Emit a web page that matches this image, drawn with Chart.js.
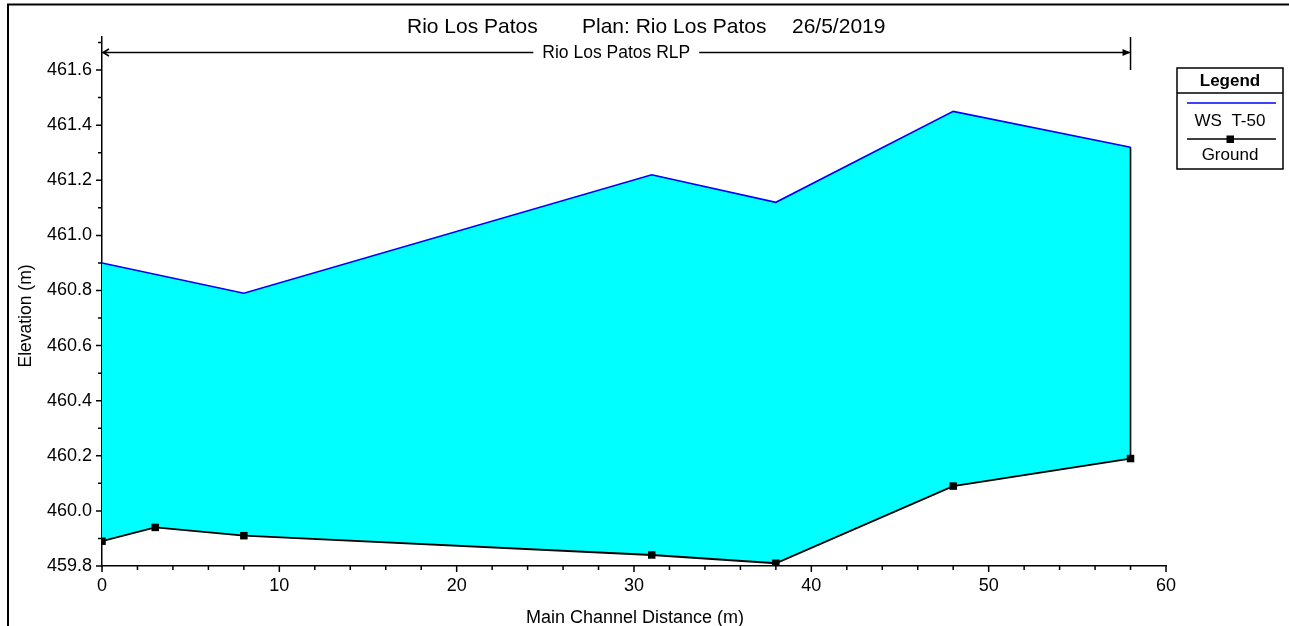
<!DOCTYPE html>
<html><head><meta charset="utf-8">
<script src="https://cdn.jsdelivr.net/npm/chart.js@4/dist/chart.umd.min.js"></script>
<style>html,body{margin:0;padding:0;background:#fff;overflow:hidden}#wrap{position:relative;width:1289px;height:626px}canvas{display:block}</style>
</head><body><div id="wrap"><canvas id="c" width="1289" height="626"></canvas></div>
<script>
const titleParts = ['Rio Los Patos', 'Plan: Rio Los Patos', '26/5/2019'];
const reachLabel = 'Rio Los Patos RLP';
const xTitle = 'Main Channel Distance (m)';
const yTitle = 'Elevation (m)';
const legendTitle = 'Legend';
const wsLabel = 'WS  T-50';
const groundLabel = 'Ground';
const wsX = [0, 8, 31, 38, 48, 58];
const wsY = [460.90, 460.79, 461.22, 461.12, 461.45, 461.32];
const groundX = [0, 3, 8, 31, 38, 48, 58];
const groundY = [459.89, 459.94, 459.91, 459.84, 459.81, 460.09, 460.19];
const xMin = 0, xMax = 60, xMajor = 10, xMinor = 2;
const yMin = 459.8, yMax = 461.72, yMinor = 0.1;

const FONT = "'Liberation Sans', Arial, sans-serif";
Chart.defaults.font.family = FONT;
Chart.defaults.color = '#000';

const decor = {
  id: 'decor',
  afterDraw(chart) {
    const c = chart.ctx, xs = chart.scales.x, ys = chart.scales.y, a = chart.chartArea;
    c.save();
    c.strokeStyle = '#000'; c.fillStyle = '#000';
    // outer frame
    c.lineWidth = 2;
    c.beginPath(); c.moveTo(8, 626); c.lineTo(8, 4.5); c.lineTo(1289, 4.5); c.stroke();
    // tick marks
    c.lineWidth = 1.5;
    c.beginPath();
    xs.ticks.forEach(t => {
      const p = xs.getPixelForValue(t.value);
      const len = (Math.round(t.value) % xMajor === 0) ? 6 : 4;
      c.moveTo(p, a.bottom); c.lineTo(p, a.bottom + len);
    });
    ys.ticks.forEach(t => {
      const p = ys.getPixelForValue(t.value);
      const len = (Math.round(t.value * 10) % 2 === 0) ? 6 : 4;
      c.moveTo(a.left, p); c.lineTo(a.left - len, p);
    });
    c.stroke();
    // title
    c.font = '21px ' + FONT; c.textBaseline = 'alphabetic'; c.textAlign = 'left';
    c.fillText(titleParts[0], 407, 33);
    c.fillText(titleParts[1], 582, 33);
    c.fillText(titleParts[2], 792, 33);
    // reach annotation
    const rx0 = xs.getPixelForValue(wsX[0]), rx1 = xs.getPixelForValue(wsX[wsX.length - 1]);
    const ry = 52.5;
    c.font = '17.5px ' + FONT; c.textAlign = 'center'; c.textBaseline = 'middle';
    const mid = (rx0 + rx1) / 2; const tw = c.measureText(reachLabel).width;
    c.fillText(reachLabel, mid, ry + 1);
    c.lineWidth = 1.5;
    c.beginPath();
    c.moveTo(rx0, ry); c.lineTo(mid - tw / 2 - 9, ry);
    c.moveTo(mid + tw / 2 + 9, ry); c.lineTo(rx1, ry);
    c.moveTo(rx1, a.top); c.lineTo(rx1, a.top + 33);
    c.moveTo(rx0 + 7, ry - 3.5); c.lineTo(rx0 + 1, ry); c.lineTo(rx0 + 7, ry + 3.5);
    c.stroke();
    c.beginPath(); c.moveTo(rx1, ry); c.lineTo(rx1 - 8, ry - 3.5); c.lineTo(rx1 - 8, ry + 3.5); c.closePath(); c.fill();
    // axis titles
    c.font = '18px ' + FONT; c.textAlign = 'center'; c.textBaseline = 'alphabetic';
    c.fillText(xTitle, 635, 623);
    c.save(); c.translate(31, 316); c.rotate(-Math.PI / 2);
    c.font = '17.5px ' + FONT; c.fillText(yTitle, 0, 0); c.restore();
    // legend
    c.lineWidth = 1.5;
    c.strokeRect(1177, 68, 106, 101);
    c.beginPath(); c.moveTo(1177, 93); c.lineTo(1283, 93); c.stroke();
    c.textBaseline = 'middle'; c.textAlign = 'center';
    c.font = 'bold 17px ' + FONT; c.fillText(legendTitle, 1230, 81);
    c.strokeStyle = '#0000ff'; c.beginPath(); c.moveTo(1187, 103); c.lineTo(1276, 103); c.stroke();
    c.font = '17px ' + FONT; c.fillText(wsLabel, 1230, 121);
    c.strokeStyle = '#000'; c.beginPath(); c.moveTo(1187, 139); c.lineTo(1276, 139); c.stroke();
    c.fillRect(1226.5, 135.5, 7.5, 7.5);
    c.fillText(groundLabel, 1230, 155);
    c.restore();
  }
};

new Chart(document.getElementById('c'), {
  type: 'line',
  data: {
    datasets: [
      { label: wsLabel, order: 2, data: wsX.map((x, i) => ({ x, y: wsY[i] })), borderColor: '#0000ff', borderWidth: 1.6,
        backgroundColor: '#00ffff', fill: { target: 1 }, pointRadius: 0, tension: 0 },
      { label: groundLabel, order: 0, data: groundX.map((x, i) => ({ x, y: groundY[i] })), borderColor: '#000', borderWidth: 1.8,
        pointStyle: 'rect', pointRadius: 5.3, pointBackgroundColor: '#000', pointBorderColor: '#000', pointBorderWidth: 0, fill: false, tension: 0 },
      { label: 'edge', order: 1, data: [{ x: wsX[wsX.length - 1], y: wsY[wsY.length - 1] }, { x: groundX[groundX.length - 1], y: groundY[groundY.length - 1] }],
        borderColor: '#000', borderWidth: 1.6, pointRadius: 0, fill: false }
    ]
  },
  options: {
    responsive: false, animation: false, events: [],
    layout: { padding: { top: 37, right: 123, left: 0, bottom: 0 } },
    plugins: { legend: { display: false }, tooltip: { enabled: false }, title: { display: false } },
    scales: {
      x: { type: 'linear', min: xMin, max: xMax,
        afterFit(s) { s.height = 60; },
        grid: { display: true, drawOnChartArea: false, drawTicks: false, color: 'rgba(0,0,0,0)' },
        border: { display: true, color: '#000', width: 1.5 },
        ticks: { stepSize: xMinor, autoSkip: false, maxRotation: 0, padding: 9, font: { size: 18 }, color: '#000',
          callback: v => (Math.round(v) % xMajor === 0 ? String(Math.round(v)) : '') } },
      y: { type: 'linear', min: yMin, max: yMax,
        afterFit(s) { s.width = 102; },
        grid: { display: true, drawOnChartArea: false, drawTicks: false, color: 'rgba(0,0,0,0)' },
        border: { display: true, color: '#000', width: 1.5 },
        ticks: { stepSize: yMinor, includeBounds: false, autoSkip: false, padding: 10, font: { size: 18 }, color: '#000',
          callback: v => (Math.round(v * 10) % 2 === 0 ? v.toFixed(1) : '') } }
    }
  },
  plugins: [decor]
});
</script></body></html>
